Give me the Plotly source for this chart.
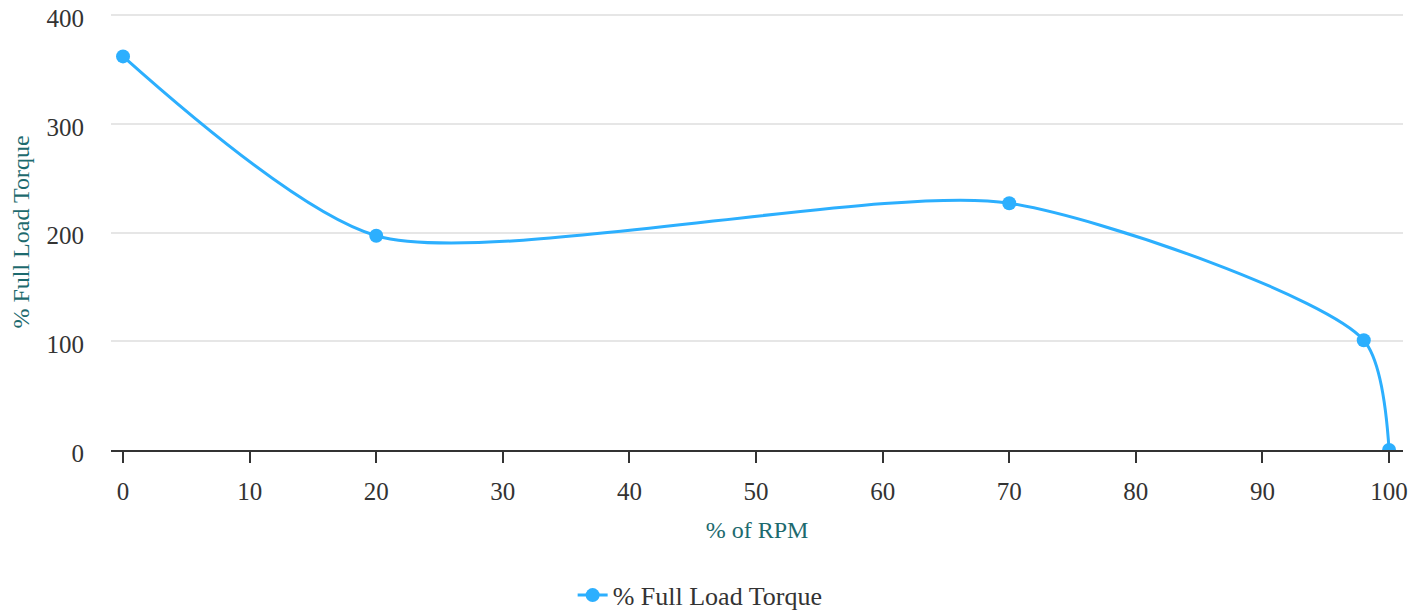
import plotly.graph_objects as go

rpm = [0, 20, 70, 98, 100]
torque = [362, 197, 227, 101, 0]
series_name = "% Full Load Torque"
x_ticks = [0, 10, 20, 30, 40, 50, 60, 70, 80, 90, 100]
y_ticks = [0, 100, 200, 300, 400]

LINE = "#2caffe"
TITLE = "#1d6a6e"
FONT = "Liberation Serif, Times New Roman, serif"

fig = go.Figure()
fig.add_trace(go.Scatter(
    x=rpm, y=torque, name=series_name, mode="lines+markers",
    line=dict(color=LINE, width=3, shape="spline", smoothing=0.7),
    marker=dict(size=14, color=LINE),
))

# page body has an 8px margin, so the figure is offset by 8px; compensate in margins
fig.update_layout(
    width=1421, height=611,
    margin=dict(l=103, r=26, t=6, b=169, autoexpand=False),
    paper_bgcolor="white", plot_bgcolor="white",
    font=dict(family=FONT, size=25, color="#333333"),
    showlegend=True,
    legend=dict(orientation="h", x=0.456, xanchor="center", y=-0.333, yanchor="middle",
                font=dict(size=26, color="#333333")),
    xaxis=dict(
        range=[-0.95, 101.1], tickvals=x_ticks, showgrid=False, zeroline=False,
        showline=True, linecolor="#333333", linewidth=1.5, automargin=False,
        ticks="outside", ticklen=11, tickcolor="#333333", tickwidth=1.5,
        ticklabelstandoff=7, ticklabeloverflow="allow",
        title=dict(text="% of RPM", font=dict(size=24, color=TITLE), standoff=17),
    ),
    yaxis=dict(
        range=[0, 401], tickvals=y_ticks, showgrid=True, gridcolor="#e6e6e6", gridwidth=1.5,
        zeroline=False, showline=False, ticks="", ticklabelstandoff=26, automargin=False,
        ticklabeloverflow="allow", ticklabelshift=3,
        title=dict(text="% Full Load Torque", font=dict(size=24, color=TITLE), standoff=16),
    ),
)

fig.write_html("out.html")
